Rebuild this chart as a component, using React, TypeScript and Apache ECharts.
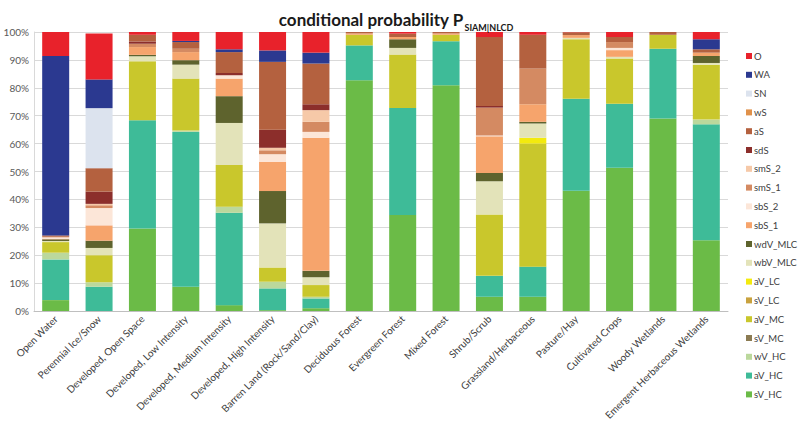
import React, { useEffect, useRef } from "react";
import * as echarts from "echarts";

const categories = [
  "Open Water",
  "Perennial Ice/Snow",
  "Developed, Open Space",
  "Developed, Low Intensity",
  "Developed, Medium Intensity",
  "Developed, High Intensity",
  "Barren Land (Rock/Sand/Clay)",
  "Deciduous Forest",
  "Evergreen Forest",
  "Mixed Forest",
  "Shrub/Scrub",
  "Grassland/Herbaceous",
  "Pasture/Hay",
  "Cultivated Crops",
  "Woody Wetlands",
  "Emergent Herbaceous Wetlands",
];

// stacked bottom -> top
const seriesNames = [
  "sV_HC", "aV_HC", "wV_HC", "sV_MC", "aV_MC", "sV_LC", "aV_LC",
  "wbV_MLC", "wdV_MLC", "sbS_1", "sbS_2", "smS_1", "smS_2", "sdS",
  "aS", "wS", "SN", "WA", "O",
];

const seriesColors = [
  "#6BBB47", "#3EBB98", "#BBD89C", "#8B7B52", "#C9C72C", "#C9A23E", "#F3EA0E",
  "#E3E3B9", "#5E632D", "#F6A46C", "#FCE6D8", "#D48A62", "#F6C9A8", "#8C2E2B",
  "#B4613F", "#E0914A", "#DCE3EE", "#2B3990", "#E8222B",
];

const sV_HC = [3.9, 0, 29.6, 8.7, 2.1, 0.3, 1.0, 82.7, 34.4, 80.9, 5.1, 5.1, 43.1, 51.3, 69.0, 25.4];
const aV_HC = [14.6, 8.7, 38.8, 55.5, 33.1, 7.8, 3.5, 12.5, 38.4, 15.8, 7.5, 10.8, 33.0, 23.0, 25.0, 41.5];
const wV_HC = [2.4, 1.6, 0, 0.5, 2.2, 2.4, 0.6, 0, 0, 0, 0, 0, 0, 0, 0, 1.7];
const sV_MC = [0, 0, 0, 0, 0, 0, 0, 0, 0, 0, 0, 0, 0, 0, 0, 0];
const aV_MC = [3.8, 9.7, 21.1, 18.6, 14.9, 5.1, 4.2, 3.8, 19.1, 2.3, 22.0, 44.1, 21.3, 16.2, 5.0, 19.7];
const sV_LC = [0, 0, 0, 0, 0, 0, 0, 0, 0, 0, 0, 0, 0, 0, 0, 0];
const aV_LC = [0, 0, 0, 0, 0, 0, 0, 0, 0, 0, 0, 2.1, 0, 0, 0, 0];
const wbV_MLC = [0.4, 2.6, 1.8, 5.0, 15.1, 15.8, 2.8, 0, 2.4, 0, 11.9, 5.1, 0.5, 0.6, 0, 0.6];
const wdV_MLC = [0.6, 2.6, 0.5, 1.6, 9.6, 11.6, 2.3, 0, 3.1, 0, 3.0, 0.6, 0, 0, 0, 2.5];
const sbS_1 = [0.2, 5.5, 2.8, 2.9, 6.3, 10.5, 47.7, 0.5, 0.8, 0.5, 13.1, 6.3, 1.0, 2.4, 0, 1.2];
const sbS_2 = [0.5, 6.2, 0, 0, 1.2, 2.7, 2.1, 0, 0, 0, 0.3, 0, 0, 0.8, 0, 0];
const smS_1 = [0.2, 1.0, 1.2, 1.2, 0, 1.4, 3.6, 0, 0, 0, 10.0, 12.8, 0, 2.1, 0, 0];
const smS_2 = [0, 0.5, 0, 0, 0, 0.9, 4.2, 0, 0, 0, 0, 0, 0, 0, 0, 0];
const sdS = [0, 4.4, 0.8, 0, 0.8, 6.5, 2.1, 0, 0, 0, 0.6, 0, 0, 0, 0, 0];
const aS = [0.5, 8.4, 2.4, 2.4, 7.5, 24.3, 14.6, 0.5, 1.2, 0.5, 24.7, 12.1, 1.0, 1.8, 1.0, 1.2];
const wS = [0, 0, 0, 0, 0, 0, 0, 0, 0, 0, 0, 0, 0, 0, 0, 0];
const SN = [0, 21.5, 0, 0, 0, 0, 0, 0, 0, 0, 0, 0, 0, 0, 0, 0];
const WA = [64.3, 10.3, 0, 0.4, 1.0, 4.1, 3.9, 0, 0, 0, 0, 0, 0, 0, 0, 3.6];
const O = [8.6, 16.5, 1.0, 3.2, 6.2, 6.6, 7.4, 0, 0.6, 0, 1.8, 1.0, 0.2, 1.8, 0, 2.6];

const seriesValues = [
  sV_HC, aV_HC, wV_HC, sV_MC, aV_MC, sV_LC, aV_LC, wbV_MLC, wdV_MLC,
  sbS_1, sbS_2, smS_1, smS_2, sdS, aS, wS, SN, WA, O,
];

const yTicks = [0, 10, 20, 30, 40, 50, 60, 70, 80, 90, 100];

export default function App() {
  const ref = useRef<HTMLDivElement>(null);
  useEffect(() => {
    if (!ref.current) return;
    const chart = echarts.init(ref.current, null, { renderer: "svg" });
    const font = "Lato, 'Open Sans', sans-serif";
    chart.setOption({
      animation: false,
      backgroundColor: "#ffffff",
      textStyle: { fontFamily: font },
      title: {
        text: "{a|conditional probability P}{b|SIAM|NLCD}",
        left: 391,
        textAlign: "center",
        top: 1,
        textStyle: {
          rich: {
            a: { fontSize: 17, fontWeight: "bold", color: "#1a1a1a", fontFamily: font, verticalAlign: "bottom", lineHeight: 22 },
            b: { fontSize: 9, fontWeight: "bold", color: "#1a1a1a", fontFamily: font, verticalAlign: "bottom", lineHeight: 22, padding: [0, 0, -4, 1] },
          },
        },
      },
      legend: {
        orient: "vertical",
        left: 741,
        top: 45,
        itemWidth: 6,
        itemHeight: 6,
        itemGap: 6.8,
        icon: "rect",
        data: [...seriesNames].reverse(),
        textStyle: { fontSize: 9.5, color: "#404040", lineHeight: 12, fontFamily: font, padding: [0, 0, 0, -3] },
      },
      grid: { left: 34, right: 72, top: 32, bottom: 112, containLabel: false },
      xAxis: {
        type: "category",
        data: categories,
        axisTick: { show: false },
        axisLine: { lineStyle: { color: "#BFBFBF" } },
        axisLabel: { rotate: 45, fontSize: 10, color: "#404040", interval: 0, margin: 6, fontFamily: font },
      },
      yAxis: {
        type: "value",
        min: yTicks[0],
        max: yTicks[yTicks.length - 1],
        interval: 10,
        axisLine: { show: true, lineStyle: { color: "#D9D9D9" } },
        axisTick: { show: false },
        splitLine: { lineStyle: { color: "#D9D9D9" } },
        axisLabel: { formatter: "{value}%", fontSize: 10, color: "#595959", margin: 5, fontFamily: font },
      },
      series: seriesNames.map((name, i) => ({
        name,
        type: "bar",
        stack: "total",
        barWidth: 27,
        itemStyle: { color: seriesColors[i] },
        data: seriesValues[i],
      })),
    });
    return () => chart.dispose();
  }, []);
  return <div ref={ref} style={{ position: "absolute", left: 0, top: 0, width: 800, height: 423 }} />;
}
